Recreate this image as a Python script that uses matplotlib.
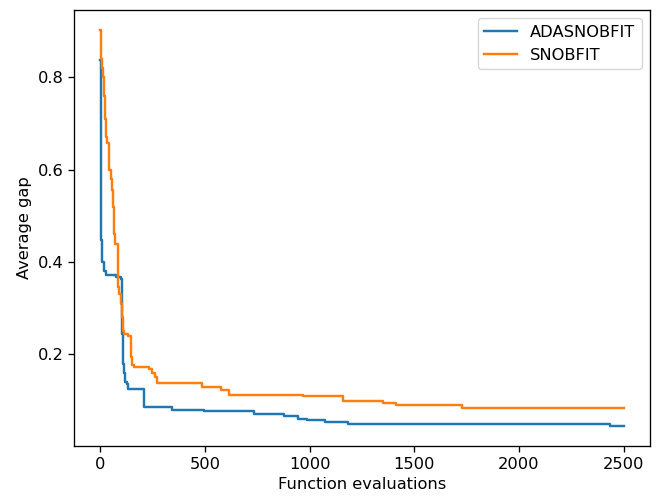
import matplotlib.pyplot as plt

# Curvas de convergência
x_ada = [0, 1, 3, 6, 10, 18, 27, 75, 98, 103, 105, 107, 110, 113, 116, 125, 130, 210,
         344, 495, 733, 875, 946, 986, 1073, 1184, 2435, 2500]
y_ada = [0.837, 0.60, 0.447, 0.42, 0.40, 0.38, 0.372, 0.368, 0.364, 0.30, 0.245,
         0.21, 0.18, 0.159, 0.14, 0.135, 0.126, 0.086,
         0.080, 0.077, 0.070, 0.066, 0.061, 0.057, 0.054, 0.049, 0.044, 0.044]

x_snob = [0, 4, 8, 14, 18, 22, 27, 30, 40, 43, 50, 56, 59, 63, 67, 70, 83, 86, 90, 98, 103,
          108, 114, 130, 146, 150, 160, 233, 245, 262, 270, 487, 574, 614, 970, 1160, 1350,
          1413, 1730, 2500]
y_snob = [0.903, 0.84, 0.82, 0.80, 0.76, 0.71, 0.67, 0.657, 0.63, 0.60, 0.58, 0.555, 0.52,
          0.49, 0.46, 0.44, 0.40, 0.345, 0.33, 0.31, 0.28,
          0.25, 0.245, 0.24, 0.194, 0.178, 0.172, 0.168, 0.16, 0.15, 0.139, 0.129, 0.122,
          0.113, 0.110, 0.100, 0.095, 0.090, 0.083, 0.083]

plt.rcParams['font.size'] = 11.7
plt.rcParams['lines.linewidth'] = 1.75
plt.rcParams['axes.linewidth'] = 0.95
plt.rcParams['xtick.major.size'] = 4.1
plt.rcParams['ytick.major.size'] = 4.1
plt.rcParams['xtick.major.width'] = 0.95
plt.rcParams['ytick.major.width'] = 0.95

fig = plt.figure(figsize=(6.57, 4.98), dpi=100)
ax = fig.add_axes([0.113, 0.104, 0.876, 0.876])
ax.plot(x_ada, y_ada, drawstyle='steps-post', label='ADASNOBFIT')
ax.plot(x_snob, y_snob, drawstyle='steps-post', label='SNOBFIT')
ax.set_xlabel('Function evaluations')
ax.set_ylabel('Average gap')
ax.set_yticks([0.2, 0.4, 0.6, 0.8])
ax.legend(loc='upper right')
fig.savefig('out.png', dpi=100)
